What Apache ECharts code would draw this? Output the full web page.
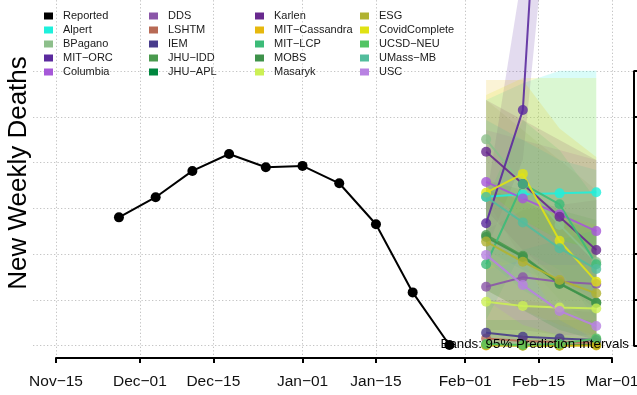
<!DOCTYPE html>
<html>
<head>
<meta charset="utf-8">
<script src="https://cdn.jsdelivr.net/npm/echarts@6/dist/echarts.min.js"></script>
<style>
html,body{margin:0;padding:0;background:#fff;}
#c{width:637px;height:395px;}
</style>
</head>
<body>
<div id="c"></div>
<script>
// ---------------- data ----------------
const reportedDates = ['2021-11-27','2021-12-04','2021-12-11','2021-12-18','2021-12-25','2022-01-01','2022-01-08','2022-01-15','2022-01-22','2022-01-29'];
const reportedValues = [561, 649, 764, 838, 780, 786, 710, 531, 233, 3];

const forecastDates = ['2022-02-05','2022-02-12','2022-02-19','2022-02-26'];

const tickDates = ['2021-11-15','2021-12-01','2021-12-15','2022-01-01','2022-01-15','2022-02-01','2022-02-15','2022-03-01'];
const tickLabels = ['Nov\u221215','Dec\u221201','Dec\u221215','Jan\u221201','Jan\u221215','Feb\u221201','Feb\u221215','Mar\u221201'];
const yTicks = [0, 200, 400, 600, 800, 1000, 1200];

// point forecasts, lower and upper 95% bounds
const alpertMid = [651, 662, 666, 671];
const alpertLo  = [418, 331, 265, 222];
const alpertHi  = [1074, 1147, 1202, 1202];

const bpaganoMid = [902, 703, 528, 366];
const bpaganoLo  = [637, 375, 200, 69];
const bpaganoHi  = [1074, 943, 812, 681];

const mitOrcMid = [535, 1030, 3653, 6320];
const mitOrcLo  = [418, 812, 2429, 3697];
const mitOrcHi  = [637, 1642, 8069, 12440];

const columbiaMid = [716, 644, 574, 501];
const columbiaLo  = [462, 375, 287, 200];
const columbiaHi  = [943, 899, 856, 812];

const ddsMid = [258, 299, 280, 270];
const ddsLo  = [69, 69, 47, 47];
const ddsHi  = [506, 593, 615, 637];

const lshtmMid = [31, 21, 16, 12];
const lshtmLo  = [0, 0, 0, 0];
const lshtmHi  = [200, 200, 178, 156];

const iemMid = [57, 39, 32, 25];
const iemLo  = [3, 0, 0, 0];
const iemHi  = [200, 178, 156, 147];

const jhuIddMid = [484, 393, 273, 189];
const jhuIddLo  = [243, 156, 69, 25];
const jhuIddHi  = [724, 681, 593, 550];

const jhuAplMid = [3, 1, 1, 3];
const jhuAplLo  = [0, 0, 0, 0];
const jhuAplHi  = [112, 112, 112, 112];

const karlenMid = [848, 707, 564, 418];
const karlenLo  = [593, 418, 287, 156];
const karlenHi  = [1074, 987, 899, 812];

const cassandraMid = [1, 0, 0, 1];
const cassandraLo  = [0, 0, 0, 0];
const cassandraHi  = [1162, 1162, 950, 825];

const mitLcpMid = [356, 707, 618, 356];
const mitLcpLo  = [112, 418, 331, 112];
const mitLcpHi  = [637, 987, 856, 637];

const mobsMid = [475, 388, 270, 187];
const mobsLo  = [243, 156, 69, 25];
const mobsHi  = [681, 637, 550, 506];

const masarykMid = [192, 174, 167, 163];
const masarykLo  = [47, 32, 25, 25];
const masarykHi  = [375, 353, 353, 353];

const esgMid = [455, 367, 287, 229];
const esgLo  = [243, 156, 90, 47];
const esgHi  = [681, 637, 571, 528];

const covidCompleteMid = [669, 751, 459, 280];
const covidCompleteLo  = [331, 375, 112, 25];
const covidCompleteHi  = [1096, 1170, 1170, 1170];

const ucsdNeuMid = [7, 3, 7, 32];
const ucsdNeuLo  = [0, 0, 0, 0];
const ucsdNeuHi  = [418, 418, 462, 506];

const umassMid = [650, 539, 426, 335];
const umassLo  = [375, 243, 156, 90];
const umassHi  = [987, 899, 812, 768];

const uscMid = [397, 265, 152, 86];
const uscLo  = [200, 90, 47, 25];
const uscHi  = [681, 550, 462, 418];

const modelNames = ['Alpert','BPagano','MIT\u2212ORC','Columbia','DDS','LSHTM','IEM','JHU\u2212IDD','JHU\u2212APL','Karlen','MIT\u2212Cassandra','MIT\u2212LCP','MOBS','Masaryk','ESG','CovidComplete','UCSD\u2212NEU','UMass\u2212MB','USC'];
const modelColors = ['#1EF0DC','#8DBF8B','#5B2A9E','#A658D8','#8A56A8','#B86A55','#483C8C','#4A9A4E','#00873F','#68298E','#E6B80E','#3CBB78','#3E924A','#CCF055','#B0B232','#E0E214','#52C463','#52BD9C','#B882E2'];
const modelMid = [alpertMid,bpaganoMid,mitOrcMid,columbiaMid,ddsMid,lshtmMid,iemMid,jhuIddMid,jhuAplMid,karlenMid,cassandraMid,mitLcpMid,mobsMid,masarykMid,esgMid,covidCompleteMid,ucsdNeuMid,umassMid,uscMid];
const modelLo  = [alpertLo,bpaganoLo,mitOrcLo,columbiaLo,ddsLo,lshtmLo,iemLo,jhuIddLo,jhuAplLo,karlenLo,cassandraLo,mitLcpLo,mobsLo,masarykLo,esgLo,covidCompleteLo,ucsdNeuLo,umassLo,uscLo];
const modelHi  = [alpertHi,bpaganoHi,mitOrcHi,columbiaHi,ddsHi,lshtmHi,iemHi,jhuIddHi,jhuAplHi,karlenHi,cassandraHi,mitLcpHi,mobsHi,masarykHi,esgHi,covidCompleteHi,ucsdNeuHi,umassHi,uscHi];

// ---------------- layout ----------------
const ts = s => { const p = s.split('-').map(Number); return Date.UTC(p[0], p[1] - 1, p[2]); };
const FONT = '"Liberation Sans", Arial, Helvetica, sans-serif';
const W = 637, H = 395;
const PLOT_L = 33, PLOT_T = 0, PLOT_B = 355;
const AX_X0 = 56, AX_X1 = 612, AX_Y = 358;
const Y_ZERO = 345.7, Y_TOP = 71.2;
const BAND_ALPHA = 0.17;
const tickTimes = tickDates.map(ts);
const tFirst = tickTimes[0], tLast = tickTimes[tickTimes.length - 1];
const msPerPx = (tLast - tFirst) / (AX_X1 - AX_X0);
const xMin0 = tFirst - (AX_X0 - PLOT_L) * msPerPx;
const xMax0 = tLast + (W - AX_X1) * msPerPx;
const uPerPx = yTicks[yTicks.length - 1] / (Y_ZERO - Y_TOP);
const yMax0 = (Y_ZERO - PLOT_T) * uPerPx;
const yMin0 = -(PLOT_B - Y_ZERO) * uPerPx;

function rgba(hex, a) {
  const n = parseInt(hex.slice(1), 16);
  return 'rgba(' + ((n >> 16) & 255) + ',' + ((n >> 8) & 255) + ',' + (n & 255) + ',' + a + ')';
}

const fTimes = forecastDates.map(ts);
const series = [];

// grid lines (dotted), horizontal at y ticks, vertical at date ticks
const gridLineStyle = { color: '#c4c4c4', type: [1.3, 2.2], width: 1 };
series.push({
  type: 'line', xAxisIndex: 0, yAxisIndex: 0, data: [], z: 0, zlevel: 0, silent: true,
  markLine: {
    z: 0, silent: true, symbol: ['none', 'none'], label: { show: false }, animation: false,
    lineStyle: gridLineStyle, emphasis: { disabled: true },
    data: yTicks.map(v => [{ coord: [xMin0, v] }, { coord: [xMax0, v] }])
      .concat(tickTimes.map(t => [{ coord: [t, yMin0] }, { coord: [t, yMax0] }]))
  }
});

// bands
modelNames.forEach((name, k) => {
  const lo = modelLo[k], hi = modelHi[k], color = modelColors[k];
  series.push({
    type: 'custom', name: name + ' band', xAxisIndex: 0, yAxisIndex: 0, z: 1, silent: true, clip: false,
    data: fTimes.map((t, i) => [t, lo[i], hi[i]]),
    encode: { x: 0, y: [1, 2] },
    renderItem: function (params, api) {
      if (params.dataIndex !== 0) return null;
      const pts = [];
      for (let i = 0; i < fTimes.length; i++) pts.push(api.coord([fTimes[i], hi[i]]));
      for (let i = fTimes.length - 1; i >= 0; i--) pts.push(api.coord([fTimes[i], lo[i]]));
      return { type: 'polygon', shape: { points: pts }, style: { fill: rgba(color, BAND_ALPHA) }, silent: true };
    }
  });
});

// reported
series.push({
  type: 'line', name: 'Reported', xAxisIndex: 0, yAxisIndex: 0, z: 4,
  data: reportedDates.map((d, i) => [ts(d), reportedValues[i]]),
  symbol: 'circle', symbolSize: 10, clip: false,
  itemStyle: { color: '#000' }, lineStyle: { color: '#000', width: 2 }
});

// forecast lines
modelNames.forEach((name, k) => {
  const mid = modelMid[k], color = modelColors[k];
  series.push({
    type: 'line', name: name, xAxisIndex: 0, yAxisIndex: 0, z: 3,
    data: fTimes.map((t, i) => [t, mid[i]]),
    symbol: 'circle', symbolSize: 10, clip: false,
    itemStyle: { color: color, opacity: 0.8 },
    lineStyle: { color: color, width: 2, opacity: 0.9 }
  });
});

const allNames = ['Reported'].concat(modelNames);
const legendCols = [allNames.slice(0, 5), allNames.slice(5, 10), allNames.slice(10, 15), allNames.slice(15, 20)];
const legendX = [44, 149, 255, 360];
const legends = legendCols.map((names, c) => ({
  data: names, left: legendX[c], top: 9, orient: 'vertical', padding: 0, z: 10,
  icon: 'rect', itemWidth: 9, itemHeight: 7, itemGap: 0, selectedMode: false,
  itemStyle: { opacity: 1, borderWidth: 0 },
  textStyle: { fontFamily: FONT, fontSize: 11, color: '#1a1a1a', lineHeight: 14, padding: [0, 0, 0, 5] }
}));

const hidden = { show: false };
const option = {
  animation: false,
  backgroundColor: '#fff',
  legend: legends,
  grid: [
    { left: PLOT_L, right: 0, top: PLOT_T, bottom: H - PLOT_B, containLabel: false, outerBoundsMode: 'none' },
    { left: AX_X0, right: W - AX_X1, top: AX_Y - 3, bottom: H - AX_Y, containLabel: false, outerBoundsMode: 'none' },
    { left: 600, right: 3, top: Y_TOP, bottom: H - Y_ZERO, containLabel: false, outerBoundsMode: 'none' }
  ],
  xAxis: [
    { gridIndex: 0, type: 'value', min: xMin0, max: xMax0, show: false, splitLine: hidden },
    { gridIndex: 1, type: 'value', min: tFirst, max: tLast, position: 'bottom',
      axisLine: { show: true, onZero: false, lineStyle: { color: '#000', width: 2 } },
      axisTick: { show: true, inside: false, length: 5, lineStyle: { color: '#000', width: 2 }, customValues: tickTimes },
      axisLabel: { show: true, margin: 16, fontFamily: FONT, fontSize: 15.5, color: '#111',
        customValues: tickTimes,
        formatter: function (v) { const i = tickTimes.indexOf(v); return i >= 0 ? tickLabels[i] : ''; } },
      splitLine: hidden },
    { gridIndex: 2, type: 'value', min: 0, max: 1, show: false }
  ],
  yAxis: [
    { gridIndex: 0, type: 'value', min: yMin0, max: yMax0, show: false, splitLine: hidden },
    { gridIndex: 1, type: 'value', min: 0, max: 1, show: false },
    { gridIndex: 2, type: 'value', position: 'right', min: yTicks[0], max: yTicks[yTicks.length - 1], interval: yTicks[1] - yTicks[0],
      axisLine: { show: true, onZero: false, lineStyle: { color: '#000', width: 2 } },
      axisTick: { show: true, inside: false, length: 5, lineStyle: { color: '#000', width: 2 } },
      axisLabel: { show: false }, splitLine: hidden }
  ],
  graphic: [
    { type: 'text', x: 19, y: 173, rotation: Math.PI / 2, z: 100,
      style: { text: 'New Weekly Deaths', font: '26px ' + FONT, fill: '#000', align: 'center', verticalAlign: 'middle' } },
    { type: 'text', x: 629, y: 344, z: 100,
      style: { text: 'Bands: 95% Prediction Intervals', font: '13.3px ' + FONT, fill: '#000', align: 'right', verticalAlign: 'middle' } }
  ],
  series: series
};

const chart = echarts.init(document.getElementById('c'), null, { renderer: 'canvas', width: W, height: H });
chart.setOption(option);
</script>
</body>
</html>
